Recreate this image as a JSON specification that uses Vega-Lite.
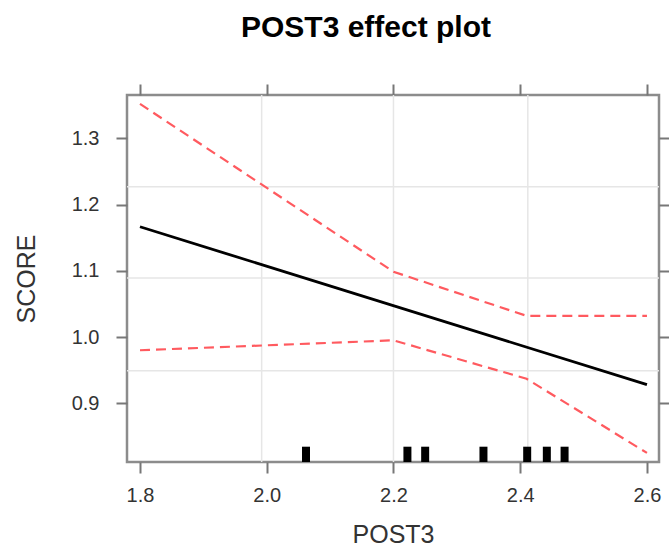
{
  "$schema": "https://vega.github.io/schema/vega-lite/v6.json",
  "width": 532,
  "height": 367,
  "autosize": "none",
  "padding": {"left": 127, "top": 95, "right": 10, "bottom": 84},
  "title": {"text": "POST3 effect plot", "font": "Liberation Sans", "fontSize": 30, "fontWeight": "bold", "color": "#000000", "anchor": "middle", "dx": -27, "offset": 40},
  "config": {
    "view": {"stroke": "#8c8c8c", "strokeWidth": 2.5},
    "axis": {"labelFont": "Liberation Sans", "titleFont": "Liberation Sans", "labelColor": "#333333", "titleColor": "#333333", "labelFontSize": 20, "titleFontSize": 25, "titleFontWeight": "normal", "tickColor": "#777777", "tickWidth": 2, "tickSize": 11, "domain": false, "grid": false}
  },
  "datasets": {
    "lines": [
      {"POST3": 1.8, "SCORE": 1.1665, "series": "fit"},
      {"POST3": 2.6, "SCORE": 0.928, "series": "fit"},
      {"POST3": 1.8, "SCORE": 1.352, "series": "upper"},
      {"POST3": 2.2, "SCORE": 1.0985, "series": "upper"},
      {"POST3": 2.41, "SCORE": 1.032, "series": "upper"},
      {"POST3": 2.6, "SCORE": 1.032, "series": "upper"},
      {"POST3": 1.8, "SCORE": 0.98, "series": "lower"},
      {"POST3": 2.2, "SCORE": 0.995, "series": "lower"},
      {"POST3": 2.41, "SCORE": 0.937, "series": "lower"},
      {"POST3": 2.6, "SCORE": 0.825, "series": "lower"}
    ],
    "rug": [
      {"POST3": 2.062}, {"POST3": 2.222}, {"POST3": 2.25}, {"POST3": 2.342},
      {"POST3": 2.411}, {"POST3": 2.442}, {"POST3": 2.47}
    ],
    "gridx": [{"POST3": 1.992}, {"POST3": 2.2}, {"POST3": 2.412}],
    "gridy": [{"SCORE": 1.227}, {"SCORE": 1.089}, {"SCORE": 0.949}]
  },
  "resolve": {"axis": {"x": "independent", "y": "independent"}},
  "layer": [
    {
      "data": {"name": "gridx"},
      "mark": {"type": "rule", "color": "#e6e6e6", "strokeWidth": 1.5},
      "encoding": {
        "x": {"field": "POST3", "type": "quantitative", "scale": {"domain": [1.7795, 2.619], "nice": false, "zero": false}, "axis": null}
      }
    },
    {
      "data": {"name": "gridy"},
      "mark": {"type": "rule", "color": "#e6e6e6", "strokeWidth": 1.5},
      "encoding": {
        "y": {"field": "SCORE", "type": "quantitative", "scale": {"domain": [0.8113, 1.3654], "nice": false, "zero": false}, "axis": null}
      }
    },
    {
      "data": {"name": "lines"},
      "transform": [{"filter": "datum.series === 'fit'"}],
      "mark": {"type": "line", "color": "#000000", "strokeWidth": 2.8},
      "encoding": {
        "x": {"field": "POST3", "type": "quantitative", "axis": {"orient": "bottom", "values": [1.8, 2.0, 2.2, 2.4, 2.6], "format": ".1f", "labelPadding": 12, "title": "POST3", "titlePadding": 17}},
        "y": {"field": "SCORE", "type": "quantitative", "axis": {"orient": "left", "values": [0.9, 1.0, 1.1, 1.2, 1.3], "format": ".1f", "labelPadding": 17, "title": "SCORE", "titlePadding": 32}}
      }
    },
    {
      "data": {"name": "lines"},
      "transform": [{"filter": "datum.series !== 'fit'"}],
      "mark": {"type": "line", "color": "#ff5a5f", "strokeWidth": 2.2, "strokeDash": [10, 6]},
      "encoding": {
        "detail": {"field": "series"},
        "x": {"field": "POST3", "type": "quantitative", "axis": {"orient": "top", "values": [1.8, 2.0, 2.2, 2.4, 2.6], "labels": false, "title": null}},
        "y": {"field": "SCORE", "type": "quantitative", "axis": {"orient": "right", "values": [0.9, 1.0, 1.1, 1.2, 1.3], "labels": false, "title": null}}
      }
    },
    {
      "data": {"name": "rug"},
      "mark": {"type": "rule", "color": "#000000", "strokeWidth": 8, "strokeCap": "butt"},
      "encoding": {
        "x": {"field": "POST3", "type": "quantitative", "axis": null},
        "y": {"datum": 0.8113, "type": "quantitative", "axis": null},
        "y2": {"datum": 0.8344}
      }
    }
  ]
}
